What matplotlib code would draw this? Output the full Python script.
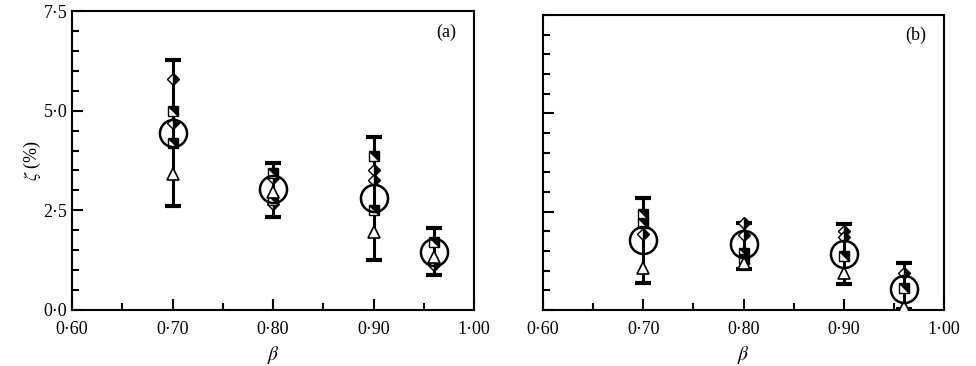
import matplotlib.pyplot as plt
import numpy as np
from matplotlib.markers import MarkerStyle
from matplotlib.transforms import Affine2D
from matplotlib.ticker import FuncFormatter, MultipleLocator

plt.rcParams["font.family"] = ["Liberation Serif", "DejaVu Serif"]
plt.rcParams["mathtext.fontset"] = "stix"

beta = [0.70, 0.80, 0.90, 0.96]

# panel (a)
mean_a = [4.43, 3.03, 2.80, 1.45]
low_a = [2.60, 2.33, 1.25, 0.88]
high_a = [6.27, 3.68, 4.34, 2.05]
diamond1_a = [5.80, 3.30, 3.50, 1.12]
diamond2_a = [4.70, 2.65, 3.26, np.nan]
square1_a = [5.00, 3.43, 3.86, 1.70]
square2_a = [4.20, 2.76, 2.50, np.nan]
triangle_a = [3.40, 2.95, 1.95, 1.33]

# panel (b)
mean_b = [1.78, 1.68, 1.43, 0.53]
low_b = [0.68, 1.05, 0.65, 0.02]
high_b = [2.86, 2.20, 2.18, 1.20]
diamond1_b = [1.93, 2.20, 2.00, 0.95]
diamond2_b = [np.nan, 1.90, 1.85, np.nan]
square1_b = [2.44, 1.45, 1.38, 0.55]
square2_b = [2.20, 1.30, np.nan, np.nan]
triangle_b = [1.08, 1.20, 0.95, 0.08]

xticks = [0.60, 0.70, 0.80, 0.90, 1.00]
yticks = [0.0, 2.5, 5.0, 7.5]


def dot_fmt(digits):
    return FuncFormatter(lambda v, pos: f"{v:.{digits}f}".replace(".", "\u00b7"))


half_square = MarkerStyle("D", fillstyle="right",
                          transform=Affine2D().rotate_deg(45))


def draw_panel(ax, mean, low, high, d1, d2, s1, s2, tri, tag, ytop):
    mean = np.array(mean)
    err = [mean - np.array(low), np.array(high) - mean]
    ax.errorbar(beta, mean, yerr=err, fmt="none", ecolor="black",
                elinewidth=2.2, capsize=6, capthick=3, zorder=1)
    for vals in (d1, d2):
        ax.plot(beta, vals, ls="none", marker="D", markersize=6,
                fillstyle="right", markerfacecolor="black",
                markerfacecoloralt="white", markeredgecolor="black",
                markeredgewidth=1, zorder=3)
    for vals in (s1, s2):
        ax.plot(beta, vals, ls="none", marker=half_square, markersize=6.5,
                markerfacecolor="black", markerfacecoloralt="white",
                markeredgecolor="black", markeredgewidth=1, zorder=3)
    ax.plot(beta, tri, ls="none", marker="^", markersize=8,
            markerfacecolor="white", markeredgecolor="black",
            markeredgewidth=1.2, zorder=3)
    ax.plot(beta, mean, ls="none", marker="o", markersize=19.5,
            markerfacecolor="none", markeredgecolor="black",
            markeredgewidth=1.8, zorder=4)

    ax.set_xlim(0.60, 1.00)
    ax.set_ylim(0, ytop)
    ax.set_xticks(xticks)
    ax.xaxis.set_minor_locator(MultipleLocator(0.05))
    ax.xaxis.set_major_formatter(dot_fmt(2))
    ax.set_yticks(yticks)
    ax.yaxis.set_minor_locator(MultipleLocator(0.5))
    ax.yaxis.set_major_formatter(dot_fmt(1))
    ax.tick_params(which="both", direction="in", top=False, right=False,
                   labelsize=13, width=1.5)
    ax.tick_params(which="major", length=8)
    ax.tick_params(which="minor", length=5)
    ax.tick_params(axis="x", pad=8)
    for sp in ax.spines.values():
        sp.set_linewidth(1.5)
    ax.set_xlabel(r"$\beta$", fontsize=14, labelpad=4)
    ax.text(0.955, 0.93, tag, transform=ax.transAxes, ha="right",
            va="center", fontsize=13)


fig = plt.figure(figsize=(9.76, 3.66), dpi=100)
ax1 = fig.add_axes([72 / 976, 56 / 366, 402 / 976, 299 / 366])
ax2 = fig.add_axes([543 / 976, 56 / 366, 401 / 976, 295 / 366])

draw_panel(ax1, mean_a, low_a, high_a, diamond1_a, diamond2_a,
           square1_a, square2_a, triangle_a, "(a)", 7.5)
draw_panel(ax2, mean_b, low_b, high_b, diamond1_b, diamond2_b,
           square1_b, square2_b, triangle_b, "(b)", 7.4)
ax2.set_yticklabels([])
ax1.set_ylabel(r"$\zeta$ (%)", fontsize=13, labelpad=0)

fig.savefig("out.png", dpi=100)
